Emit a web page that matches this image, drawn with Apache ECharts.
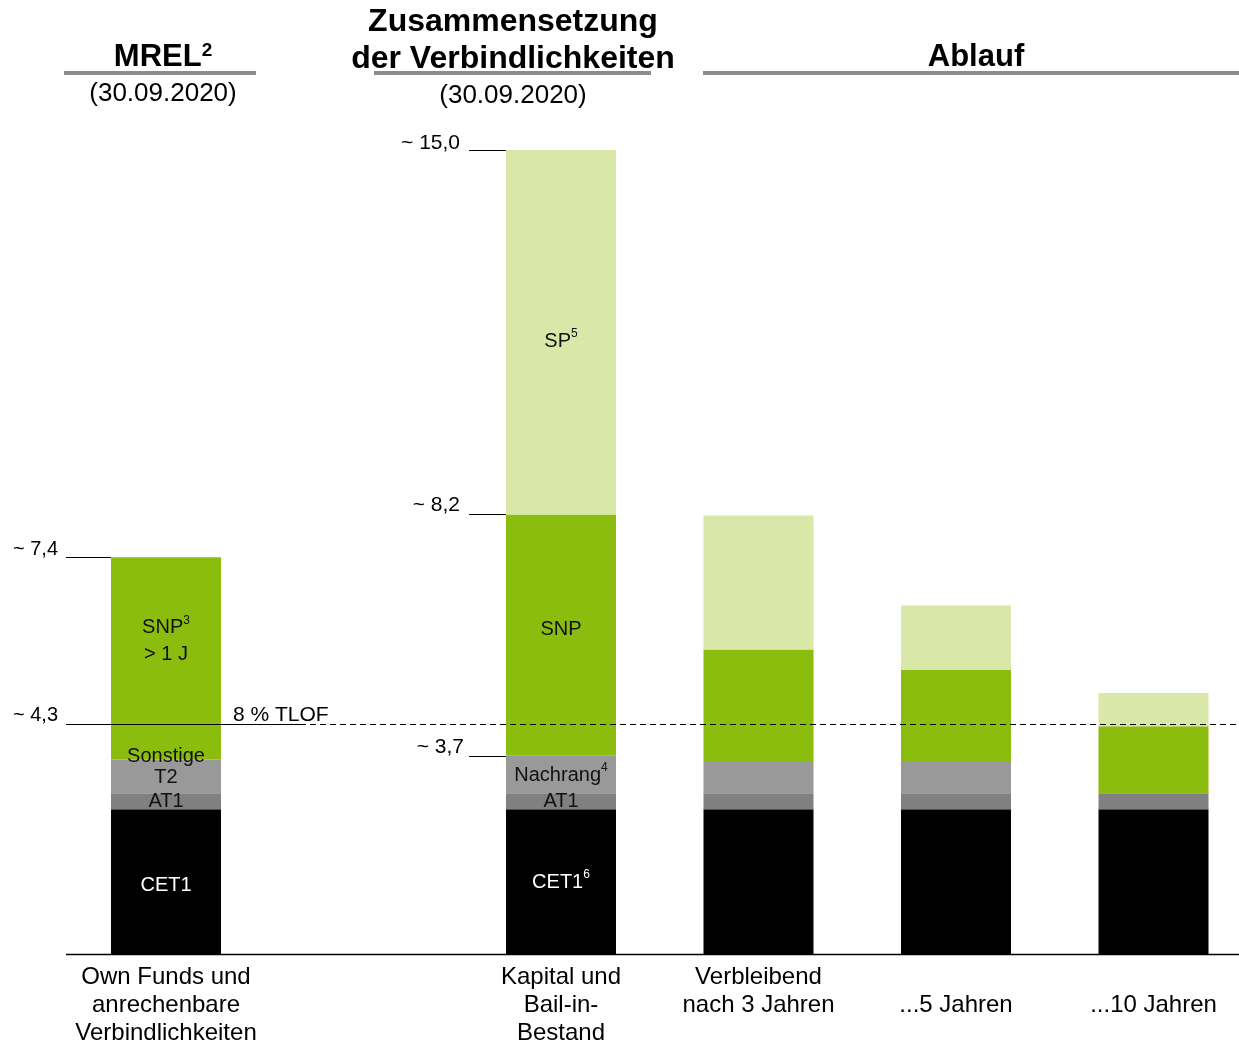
<!DOCTYPE html>
<html>
<head>
<meta charset="utf-8">
<script src="https://cdn.jsdelivr.net/npm/echarts@6/dist/echarts.min.js"></script>
<style>
  html, body { margin: 0; padding: 0; background: #fff; }
  #chart { width: 1239px; height: 1041px; }
</style>
</head>
<body>
<div id="chart"></div>
<script>
// Categories (index 1 is an empty slot separating the MREL column)
const categories = ['Own Funds und\nanrechenbare\nVerbindlichkeiten', '', 'Kapital und\nBail-in-\nBestand', 'Verbleibend\nnach 3 Jahren', '\n...5 Jahren', '\n...10 Jahren'];

// Stacked components (EUR bn)
const cet1  = [2.7,  null, 2.7, 2.7,  2.7,  2.7];
const at1   = [0.3,  null, 0.3, 0.3,  0.3,  0.3];
const tier2 = [0.63, null, 0.7, 0.58, 0.58, null];
const snp   = [3.77, null, 4.5, 2.1,  1.72, 1.25];
const sp    = [null, null, 6.8, 2.5,  1.2,  0.62];

// Segment captions
const cet1Text  = ['CET1', '', '{t|CET1}{s|6}', '', '', ''];
const at1Text   = ['AT1', '', 'AT1', '', '', ''];
const tier2Text = ['Sonstige\nT2', '', '{t|Nachrang}{s|4}', '', '', ''];
const snpText   = ['{t|SNP}{s|3}\n{t|> 1 J}', '', 'SNP', '', '', ''];
const spText    = ['', '', '{t|SP}{s|5}', '', '', ''];

// Reference levels
const mrelLevels   = [7.4];          // MREL column total
const bailInLevels = [15.0, 8.2, 3.7];
const tlofValue = 4.3;
const tlofLabel = '8 % TLOF';

const FONT = '"Liberation Sans", Arial, Helvetica, sans-serif';
const BAR_W = 110;
const fmt = v => '~ ' + v.toFixed(1).replace('.', ',');

const rich = {
  t: { fontSize: 20, fontFamily: FONT, lineHeight: 27 },
  s: { fontSize: 12, fontFamily: FONT, verticalAlign: 'top' }
};

function segData(values, texts, offsets, lineHeights) {
  return values.map((v, i) => ({
    value: v,
    label: {
      show: !!texts[i],
      formatter: texts[i] || '',
      offset: (offsets && offsets[i]) || [0, 0],
      lineHeight: (lineHeights && lineHeights[i]) || 24
    }
  }));
}

function barSeries(name, color, textColor, data) {
  return {
    name: name,
    type: 'bar',
    stack: 'total',
    barWidth: BAR_W,
    clip: false,
    itemStyle: { color: color },
    label: {
      position: 'inside',
      fontSize: 20,
      fontFamily: FONT,
      color: textColor,
      rich: rich
    },
    data: data
  };
}

const chart = echarts.init(document.getElementById('chart'), null, { renderer: 'canvas' });

chart.setOption({
  animation: false,
  backgroundColor: '#ffffff',
  textStyle: { fontFamily: FONT },
  grid: { left: 166, top: 150, width: 987.5, height: 804, containLabel: false, outerBoundsMode: 'none' },
  xAxis: {
    type: 'category',
    boundaryGap: false,
    data: categories,
    axisLine: { show: false },
    axisTick: { show: false },
    splitLine: { show: false },
    axisLabel: {
      interval: 0,
      margin: 9,
      color: '#000',
      fontSize: 24,
      fontFamily: FONT,
      lineHeight: 28,
      verticalAlign: 'top'
    }
  },
  yAxis: { type: 'value', min: 0, max: 15, show: false, splitLine: { show: false } },
  series: [
    barSeries('CET1', '#000000', '#ffffff', segData(cet1, cet1Text, [[0, 4], 0, [0, 1]])),
    barSeries('AT1', '#808080', '#111111', segData(at1, at1Text)),
    barSeries('T2 / Nachrang', '#999999', '#111111', segData(tier2, tier2Text, [[0, -9], 0, [0, 1]], [21])),
    barSeries('SNP', '#8abd0e', '#111111', segData(snp, snpText, [[0, -17], 0, [0, -6]], [27])),
    barSeries('SP', '#d9e7a8', '#111111', segData(sp, spText, [0, 0, [0, 9]]))
  ]
});

// Headline block
const TITLE_GREY = '#8c8c8c';
const headline = [
  { type: 'text', x: 163, y: 57, style: { text: '{b|MREL}{s|2}', align: 'center', verticalAlign: 'middle',
      rich: { b: { fontSize: 31, fontWeight: 'bold', fontFamily: FONT, fill: '#000' },
              s: { fontSize: 19, fontWeight: 'bold', fontFamily: FONT, fill: '#000', verticalAlign: 'top' } } } },
  { type: 'text', x: 163, y: 94, style: { text: '(30.09.2020)', font: '26px ' + FONT, fill: '#000', align: 'center', verticalAlign: 'middle' } },
  { type: 'text', x: 513, y: 22, style: { text: 'Zusammensetzung', font: 'bold 32px ' + FONT, fill: '#000', align: 'center', verticalAlign: 'middle' } },
  { type: 'text', x: 513, y: 59, style: { text: 'der Verbindlichkeiten', font: 'bold 32px ' + FONT, fill: '#000', align: 'center', verticalAlign: 'middle' } },
  { type: 'text', x: 513, y: 96, style: { text: '(30.09.2020)', font: '26px ' + FONT, fill: '#000', align: 'center', verticalAlign: 'middle' } },
  { type: 'text', x: 976, y: 57, style: { text: 'Ablauf', font: 'bold 31px ' + FONT, fill: '#000', align: 'center', verticalAlign: 'middle' } },
  { type: 'line', shape: { x1: 64, y1: 73, x2: 256, y2: 73 }, style: { stroke: TITLE_GREY, lineWidth: 4 } },
  { type: 'line', shape: { x1: 374, y1: 73, x2: 651, y2: 73 }, style: { stroke: TITLE_GREY, lineWidth: 4 } },
  { type: 'line', shape: { x1: 703, y1: 73, x2: 1239, y2: 73 }, style: { stroke: TITLE_GREY, lineWidth: 4 } }
];

// Level markers, positioned through the chart's own scales
function toPx(cat, val) { return chart.convertToPixel({ gridIndex: 0 }, [cat, val]); }

function hline(x1, x2, y, dashed, width) {
  return { type: 'line', z: 100, shape: { x1: x1, y1: y, x2: x2, y2: y },
    style: { stroke: '#000', lineWidth: width || 1.2, lineDash: dashed ? [6, 4] : null } };
}
function tag(text, x, y, align, size) {
  return { type: 'text', z: 100, x: x, y: y,
    style: { text: text, font: (size || 21) + 'px ' + FONT, fill: '#000', align: align, verticalAlign: 'middle' } };
}

const markers = [];
const left0 = toPx(0, 0)[0] - BAR_W / 2;
const left2 = toPx(2, 0)[0] - BAR_W / 2;

// Baseline (category axis line across the full width)
const yBase = Math.round(toPx(0, 0)[1]) + 0.5;
markers.push(hline(66, 1239, yBase, false, 1.6));

mrelLevels.forEach(v => {
  const y = Math.round(toPx(0, v)[1]) + 0.5;
  markers.push(hline(66, left0, y, false));
  markers.push(tag(fmt(v), 58, y - 8, 'right', 20));
});

const yT = Math.round(toPx(0, tlofValue)[1]) + 0.5;
markers.push(hline(66, 300, yT, false));
markers.push(hline(300, 1239, yT, true));
markers.push(tag(fmt(tlofValue), 58, yT - 9, 'right', 20));
markers.push(tag(tlofLabel, 233, yT - 9, 'left', 21));

bailInLevels.forEach((v, i) => {
  const y = Math.round(toPx(2, v)[1]) + 0.5;
  markers.push(hline(left2 - 37, left2, y, false));
  const shift = i === 2 ? 42 : 46;
  markers.push(tag(fmt(v), left2 - shift, y - (i === 0 ? 7 : 9), 'right', 21));
});

chart.setOption({ graphic: headline.concat(markers) });
</script>
</body>
</html>
